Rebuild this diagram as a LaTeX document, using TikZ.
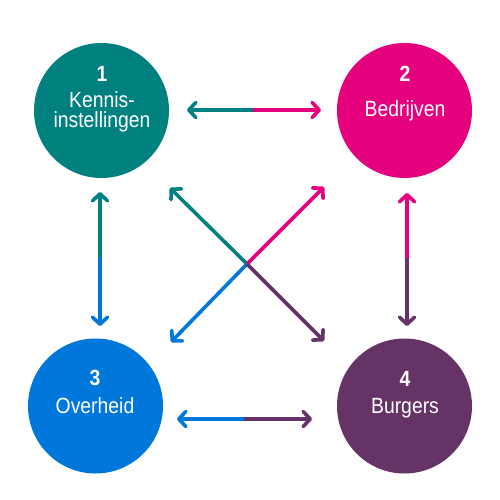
\documentclass[tikz,border=0pt]{standalone}
\usepackage{fontspec}
\setmainfont{Liberation Sans}[FakeStretch=0.88,BoldFeatures={FakeStretch=0.88}]
\usetikzlibrary{arrows.meta}
\definecolor{cteal}{HTML}{00807F}
\definecolor{cmag}{HTML}{E5007E}
\definecolor{cblue}{HTML}{0077DB}
\definecolor{cpurp}{HTML}{663366}
\tikzset{
  x=1pt,y=-1pt,
  bubble/.style={circle,minimum size=135pt,inner sep=0pt,draw=none},
  lbl/.style={anchor=base,text=white,font=\fontsize{22}{24}\selectfont,inner sep=0pt},
  num/.style={lbl,font=\fontsize{22}{24}\selectfont\bfseries},
  conn/.style={line width=3.6pt,-{Straight Barb[length=7pt,width=15pt,round]}},
}
\begin{document}
\begin{tikzpicture}
\useasboundingbox (0,0) rectangle (500,500);
\fill[white] (0,0) rectangle (500,500);
% circles
\node[bubble,fill=cteal] (n1) at (101.5,110.5) {};
\node[bubble,fill=cmag] (n2) at (404.5,110.5) {};
\node[bubble,fill=cblue] (n3) at (95.5,406) {};
\node[bubble,fill=cpurp] (n4) at (404.5,406) {};
% labels
\node[num] (t1) at (102,82) {1};
\node[lbl] (k1) at (102,107) {Kennis-};
\node[lbl] (k2) at (102,128) {instellingen};
\node[num] (t2) at (405,82) {2};
\node[lbl] (k3) at (405,117) {Bedrijven};
\node[num] (t3) at (95,385) {3};
\node[lbl] (k4) at (95,413) {Overheid};
\node[num] (t4) at (405,386) {4};
\node[lbl] (k5) at (405,413) {Burgers};
% arrow end points
\coordinate (h1a) at (187,110);
\coordinate (h1m) at (253,110);
\coordinate (h1b) at (321,110);
\coordinate (h2a) at (177,419);
\coordinate (h2m) at (244,419);
\coordinate (h2b) at (312,419);
\coordinate (v1a) at (100,192);
\coordinate (v1m) at (100,258);
\coordinate (v1b) at (100,326);
\coordinate (v2a) at (407,193);
\coordinate (v2m) at (407,258);
\coordinate (v2b) at (407,326);
\coordinate (cx) at (247,264);
\coordinate (d1) at (170,188);
\coordinate (d2) at (324,187);
\coordinate (d3) at (171,342);
\coordinate (d4) at (324,341);
% arrows
\draw[conn,cteal] (h1m) -- (h1a);
\draw[conn,cmag] (h1m) -- (h1b);
\draw[conn,cblue] (h2m) -- (h2a);
\draw[conn,cpurp] (h2m) -- (h2b);
\draw[conn,cteal] (v1m) -- (v1a);
\draw[conn,cblue] (v1m) -- (v1b);
\draw[conn,cmag] (v2m) -- (v2a);
\draw[conn,cpurp] (v2m) -- (v2b);
\draw[conn,cteal] (cx) -- (d1);
\draw[conn,cmag] (cx) -- (d2);
\draw[conn,cblue] (cx) -- (d3);
\draw[conn,cpurp] (cx) -- (d4);
\end{tikzpicture}
\end{document}
